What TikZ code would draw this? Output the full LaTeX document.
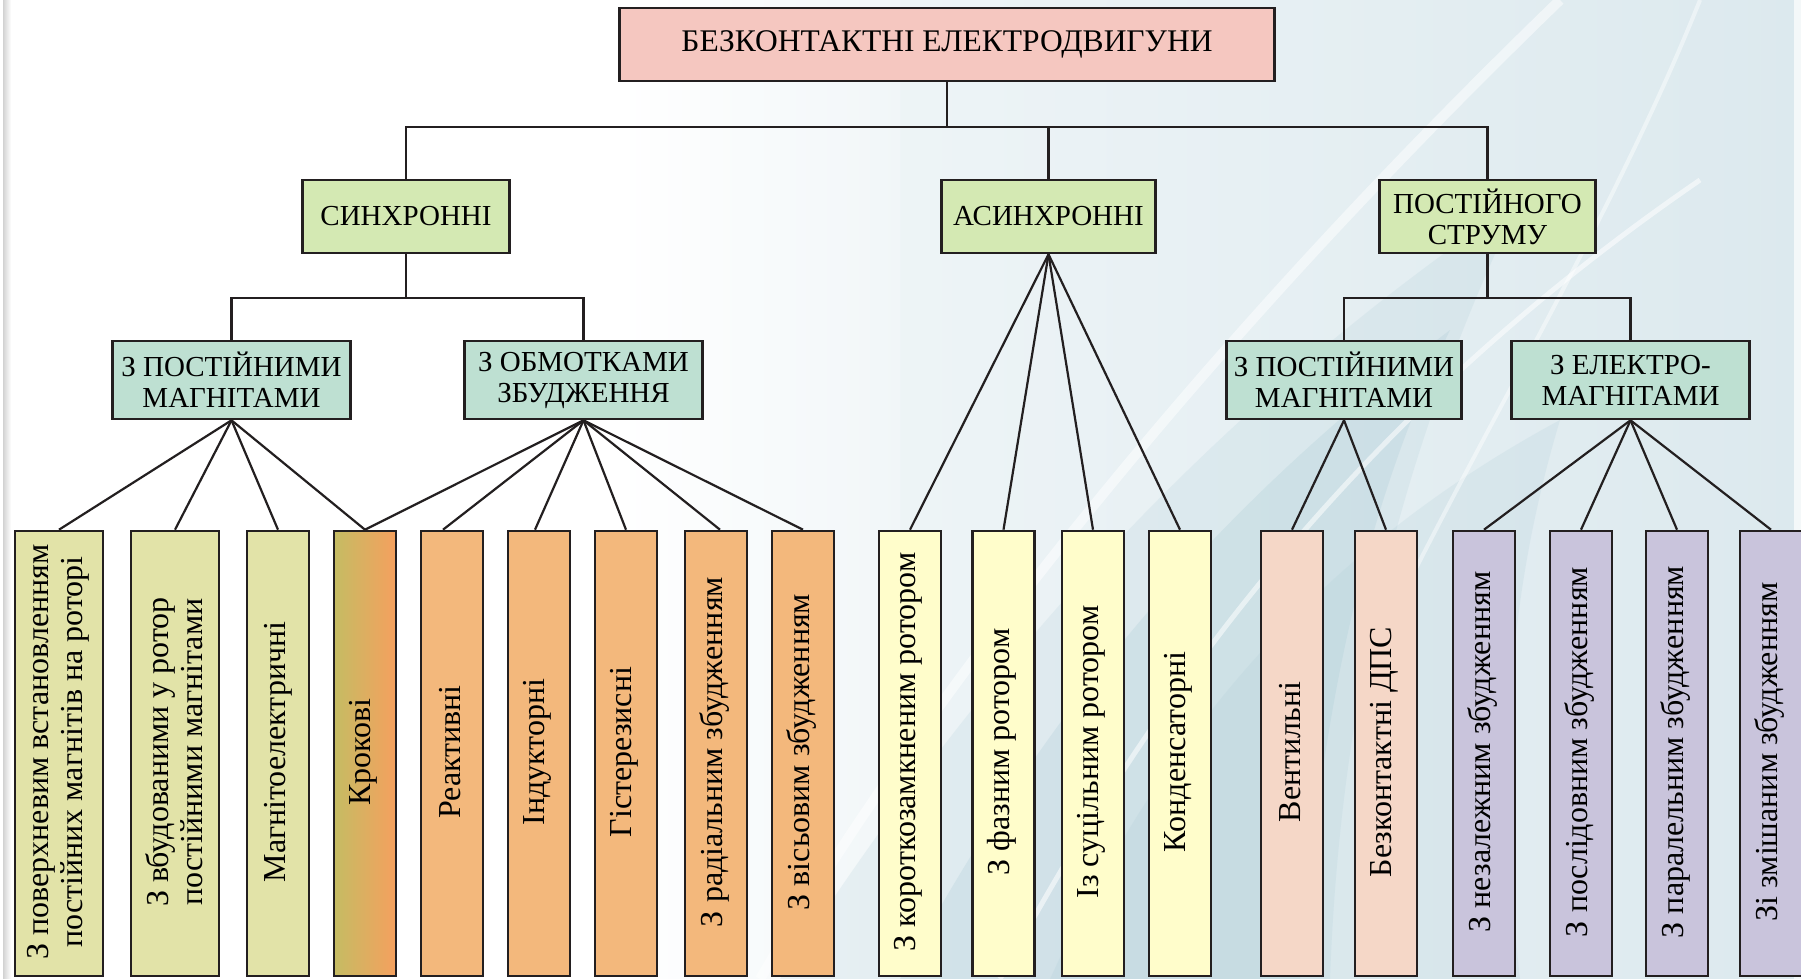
\documentclass[tikz,border=0pt]{standalone}
\usepackage{fontspec}
\setmainfont{Liberation Serif}
\usetikzlibrary{calc}

\definecolor{edge}{HTML}{231F20}
\definecolor{rootpink}{HTML}{F5C7C0}
\definecolor{kindgreen}{HTML}{D4E9B3}
\definecolor{submint}{HTML}{BEE0D2}
\definecolor{khaki}{HTML}{E2E3A8}
\definecolor{olive}{HTML}{C5BC63}
\definecolor{amber}{HTML}{F5A05E}
\definecolor{apricot}{HTML}{F3B87C}
\definecolor{cream}{HTML}{FFFDCB}
\definecolor{peach}{HTML}{F5D7C7}
\definecolor{lavender}{HTML}{C9C4DC}
\definecolor{bgblue}{HTML}{DCE9EE}
\definecolor{bgdeep}{HTML}{A9CAD5}

\begin{document}
\begin{tikzpicture}[x=1pt,y=-1pt,
  box/.style={draw=edge, line width=2.6pt, inner sep=0pt, align=center},
  head/.style={box, fill=rootpink, minimum width=655pt, minimum height=73pt,
    font=\fontsize{31.5}{33}\selectfont},
  kind/.style={box, fill=kindgreen, minimum height=73pt,
    font=\fontsize{29}{31}\selectfont},
  sub/.style={box, fill=submint, minimum width=238pt, minimum height=78pt,
    font=\fontsize{29}{31}\selectfont},
  leaf/.style={draw=edge, line width=2.6pt, minimum width=62pt,
    minimum height=445pt, inner sep=0pt},
  wideleaf/.style={leaf, minimum width=88pt},
  leaftext/.style={rotate=90, align=center, inner sep=0pt,
    font=\fontsize{32}{34}\selectfont},
  link/.style={draw=edge, line width=2.2pt},
]
\useasboundingbox (0,0) rectangle (1801,979);
\clip (0,0) rectangle (1801,979);

% background: pale page with soft blue swooshes towards the right
\fill[left color=white, right color=bgblue] (0,0) rectangle (1801,979);
\fill[white] (0,0) rectangle (620,979);
\fill[left color=white, right color=white!60!bgblue] (620,0) rectangle (900,979);
\fill[bgdeep, opacity=0.18] (780,979) .. controls (960,700) and (1180,430) .. (1520,200)
  .. controls (1400,450) and (1340,700) .. (1330,979) -- cycle;
\fill[bgdeep, opacity=0.25] (900,979) .. controls (1040,720) and (1200,520) .. (1450,330)
  .. controls (1360,520) and (1320,720) .. (1300,979) -- cycle;
\fill[bgdeep, opacity=0.18] (1050,979) .. controls (1150,760) and (1300,560) .. (1560,420)
  .. controls (1500,620) and (1500,800) .. (1520,979) -- cycle;
\draw[white, line width=10pt, opacity=0.5] (760,979) .. controls (960,640) and (1250,300) .. (1560,0);
\draw[white, line width=5pt, opacity=0.55] (1000,979) .. controls (1150,700) and (1350,420) .. (1700,180);
\draw[white, line width=4pt, opacity=0.45] (1400,600) .. controls (1500,400) and (1620,200) .. (1700,0);
\fill[left color=gray!35, right color=white] (3,0) rectangle (11,979);
\fill[white, opacity=0.7] (1794,0) rectangle (1801,979);

% upper levels
\node[head] (root) at (947,44.5) {БЕЗКОНТАКТНІ ЕЛЕКТРОДВИГУНИ};
\node[kind, minimum width=207pt] (sync)  at (406,216.5)  {СИНХРОННІ};
\node[kind, minimum width=214pt] (async) at (1048.5,216.5) {АСИНХРОННІ};
\node[kind, minimum width=216pt] (dc)    at (1487.5,216.5) {ПОСТІЙНОГО\\СТРУМУ};
\node[sub] (sp) at (231.5,380) {З ПОСТІЙНИМИ\\МАГНІТАМИ};
\node[sub] (sw) at (583.5,380) {З ОБМОТКАМИ\\ЗБУДЖЕННЯ};
\node[sub, minimum width=235pt] (dp) at (1344,380) {З ПОСТІЙНИМИ\\МАГНІТАМИ};
\node[sub] (de) at (1630.5,380) {З ЕЛЕКТРО-\\МАГНІТАМИ};

% bottom row
\node[wideleaf, fill=khaki] (b1) at (59,753.5) {};
\node[wideleaf, fill=khaki] (b2) at (175,753.5) {};
\node[leaf, fill=khaki] (b3) at (278,753.5) {};
\node[leaf, left color=olive, right color=amber] (b4) at (365,753.5) {};
\node[leaf, fill=apricot] (b5) at (452,753.5) {};
\node[leaf, fill=apricot] (b6) at (539,753.5) {};
\node[leaf, fill=apricot] (b7) at (626,753.5) {};
\node[leaf, fill=apricot] (b8) at (716,753.5) {};
\node[leaf, fill=apricot] (b9) at (803,753.5) {};
\node[leaf, fill=cream] (b10) at (910,753.5) {};
\node[leaf, fill=cream] (b11) at (1003.5,753.5) {};
\node[leaf, fill=cream] (b12) at (1093,753.5) {};
\node[leaf, fill=cream] (b13) at (1180,753.5) {};
\node[leaf, fill=peach] (b14) at (1292,753.5) {};
\node[leaf, fill=peach] (b15) at (1386,753.5) {};
\node[leaf, fill=lavender] (b16) at (1484,753.5) {};
\node[leaf, fill=lavender] (b17) at (1581,753.5) {};
\node[leaf, fill=lavender] (b18) at (1677,753.5) {};
\node[leaf, fill=lavender] (b19) at (1771,753.5) {};

\node[leaftext] (t1) at (58,752) {З поверхневим встановленням\\постійних магнітів на роторі};
\node[leaftext] (t2) at (174,752) {З вбудованими у ротор\\постійними магнітами};
\node[leaftext] (t3) at (278,752) {Магнітоелектричні};
\node[leaftext] (t4) at (363,752) {Крокові};
\node[leaftext] (t5) at (450,752) {Реактивні};
\node[leaftext] (t6) at (537,752) {Індукторні};
\node[leaftext] (t7) at (624,752) {Гістерезисні};
\node[leaftext] (t8) at (714,752) {З радіальним збудженням};
\node[leaftext] (t9) at (801,752) {З вісьовим збудженням};
\node[leaftext] (t10) at (908,752) {З короткозамкненим ротором};
\node[leaftext] (t11) at (1001.5,752) {З фазним ротором};
\node[leaftext] (t12) at (1091,752) {Із суцільним ротором};
\node[leaftext] (t13) at (1178,752) {Конденсаторні};
\node[leaftext] (t14) at (1290,752) {Вентильні};
\node[leaftext] (t15) at (1384,752) {Безконтактні ДПС};
\node[leaftext] (t16) at (1482,752) {З незалежним збудженням};
\node[leaftext] (t17) at (1579,752) {З послідовним збудженням};
\node[leaftext] (t18) at (1675,752) {З паралельним збудженням};
\node[leaftext] (t19) at (1769,752) {Зі змішаним збудженням};

% tree buses
\coordinate (busA) at (947,127);
\draw[link] (root.south) -- (busA);
\draw[link] (sync.north) -- (sync.north |- busA) -| (dc.north);
\draw[link] (async.north) -- (async.north |- busA);

\coordinate (busS) at (406,298);
\draw[link] (sync.south) -- (busS);
\draw[link] (sp.north) -- (sp.north |- busS) -| (sw.north);

\coordinate (busD) at (1487.5,298);
\draw[link] (dc.south) -- (busD);
\draw[link] (dp.north) -- (dp.north |- busD) -| (de.north);

% fans to the bottom row
\foreach \b in {b1,b2,b3,b4} \draw[link] (sp.south) -- (\b.north);
\draw[link] (sw.south) -- (b4.north);
\draw[link] (sw.south) -- ([xshift=-9pt]b5.north);
\draw[link] (sw.south) -- ([xshift=-4pt]b6.north);
\draw[link] (sw.south) -- (b7.north);
\draw[link] (sw.south) -- ([xshift=4pt]b8.north);
\draw[link] (sw.south) -- (b9.north);
\foreach \b in {b10,b11,b12,b13} \draw[link] (async.south) -- (\b.north);
\foreach \b in {b14,b15} \draw[link] (dp.south) -- (\b.north);
\foreach \b in {b16,b17,b18,b19} \draw[link] (de.south) -- (\b.north);
\end{tikzpicture}
\end{document}
